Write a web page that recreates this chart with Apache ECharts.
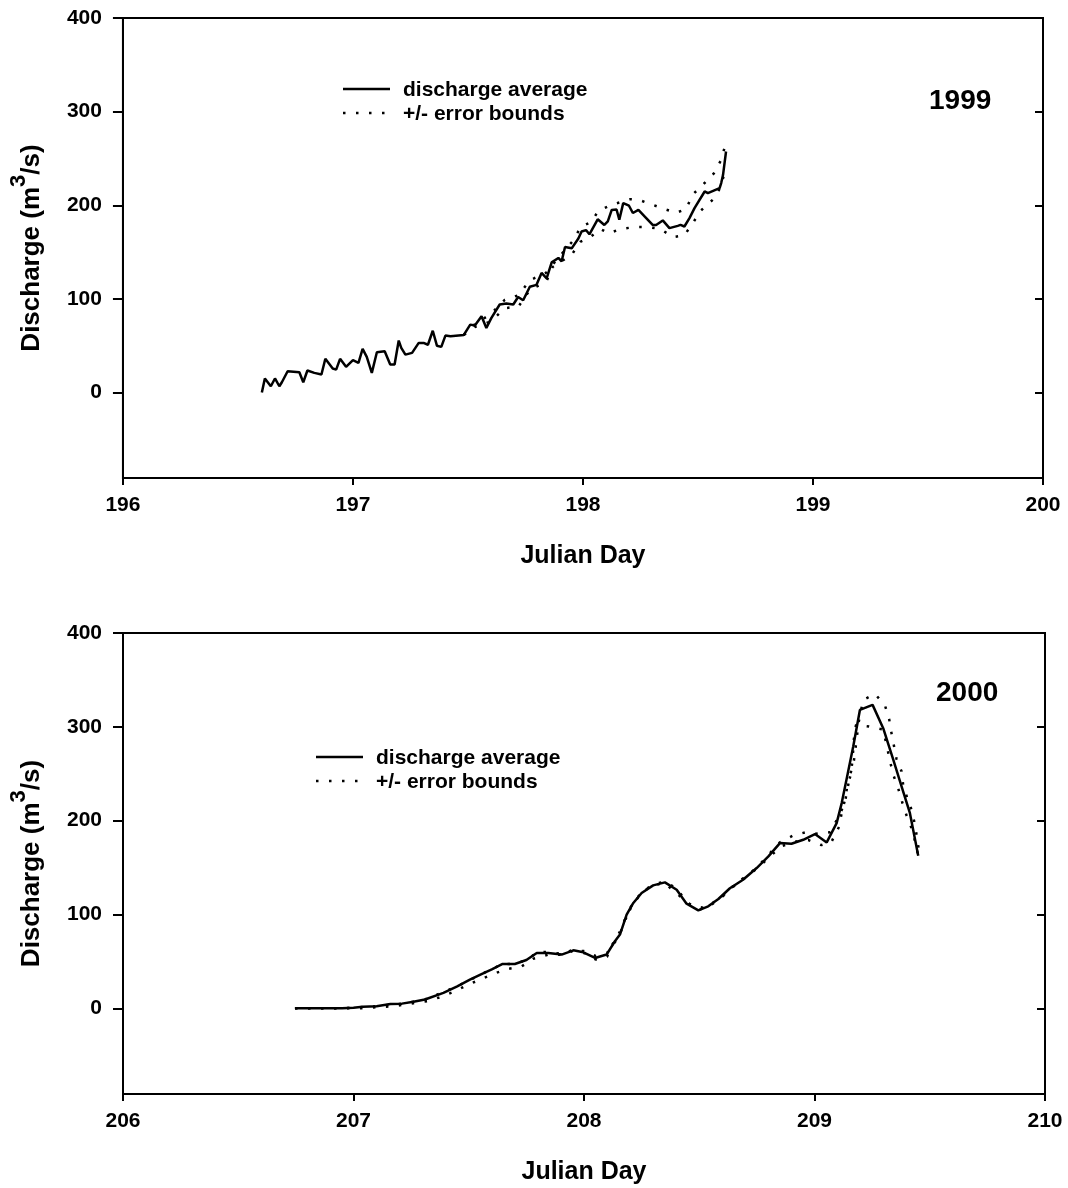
<!DOCTYPE html>
<html>
<head>
<meta charset="utf-8">
<title>Discharge, Julian Days 196-200 (1999) and 206-210 (2000)</title>
<script src="https://cdn.jsdelivr.net/npm/echarts@6/dist/echarts.min.js"></script>
<style>
  html, body { margin: 0; padding: 0; background: #ffffff; }
  #chart { width: 1068px; height: 1188px; }
</style>
</head>
<body>
<div id="chart"></div>
<script>
// ---- 1999 ----
const days1999 = [196.604, 196.617, 196.643, 196.661, 196.680, 196.691, 196.716, 196.767, 196.784, 196.802,
  196.832, 196.863, 196.880, 196.912, 196.927, 196.944, 196.970, 197.000, 197.024, 197.042,
  197.060, 197.082, 197.104, 197.138, 197.162, 197.181, 197.199, 197.210, 197.228, 197.257,
  197.286, 197.307, 197.326, 197.347, 197.365, 197.384, 197.402, 197.424, 197.482, 197.510,
  197.530, 197.559, 197.580, 197.602, 197.638, 197.667, 197.697, 197.718, 197.740, 197.769,
  197.798, 197.820, 197.842, 197.864, 197.893, 197.907, 197.922, 197.951, 197.980, 197.994,
  198.013, 198.028, 198.064, 198.093, 198.108, 198.125, 198.146, 198.158, 198.175, 198.200,
  198.217, 198.241, 198.275, 198.303, 198.318, 198.347, 198.376, 198.412, 198.424, 198.441,
  198.463, 198.485, 198.529, 198.543, 198.594, 198.601, 198.609, 198.622];
const mean1999 = [0, 15, 6.7, 15, 6.7, 11, 22.7, 21.7, 11, 23.5,
  21, 19.2, 36, 25.6, 24.5, 36, 27.4, 34.5, 31.7, 46.6,
  38, 21, 43, 44, 29.9, 29.9, 55.5, 47.7, 40.5, 42.3,
  53, 53, 51, 66, 50, 48.7, 60.8, 60, 61.5, 72.5,
  71.5, 81.4, 69, 79.7, 94, 95, 94, 102, 98.5, 113,
  115, 127.7, 122, 139, 143.7, 140, 155.4, 154, 164.5, 172,
  173.5, 169, 185, 179, 182.7, 195, 195.5, 184.5, 202.3, 199.5,
  191.7, 195, 186.3, 179, 179, 183.8, 175.6, 178, 179, 177.3,
  186.3, 197, 214.7, 213, 218.3, 223.7, 232.5, 257.4];
// error bounds separate from the average only in the second half of the record
const upDays1999 = [197.482, 197.530, 197.600, 197.660, 197.720, 197.770, 197.840, 197.900, 197.960, 197.990,
  198.035, 198.067, 198.125, 198.206, 198.241, 198.303, 198.354, 198.405, 198.449, 198.475,
  198.522, 198.569, 198.600, 198.617];
const up1999 = [61.5, 73, 84, 99, 104, 120, 128, 146, 163, 177,
  182, 194, 200.5, 206.5, 206, 200.5, 196, 192, 196, 211,
  222, 234, 248, 262.7];
const loDays1999 = [197.482, 197.530, 197.600, 197.660, 197.720, 197.770, 197.840, 197.868, 197.911, 197.955,
  197.988, 198.032, 198.076, 198.112, 198.163, 198.224, 198.285, 198.337, 198.391, 198.441,
  198.478, 198.511, 198.565, 198.598, 198.613];
const lo1999 = [61.5, 70, 76, 90, 92, 110, 118, 134, 140.8, 148.6,
  161, 166, 174.6, 170, 174.6, 176.7, 176.7, 174.6, 166, 168,
  181, 194, 206, 219, 232.5];

// ---- 2000 ----
const days2000 = [206.746, 206.80, 206.85, 206.90, 206.95, 207.00, 207.04, 207.10, 207.16, 207.21,
  207.26, 207.31, 207.39, 207.45, 207.505, 207.56, 207.60, 207.647, 207.70, 207.75,
  207.795, 207.845, 207.903, 207.954, 207.997, 208.048, 208.098, 208.134, 208.156, 208.185,
  208.214, 208.25, 208.30, 208.351, 208.402, 208.445, 208.496, 208.539, 208.583, 208.633,
  208.69, 208.749, 208.80, 208.85, 208.90, 208.951, 209.002, 209.053, 209.096, 209.118,
  209.14, 209.168, 209.197, 209.252, 209.298, 209.342, 209.378, 209.414, 209.45];
const mean2000 = [0, 0, 0, 0, 0, 0.5, 1.6, 2.3, 4.7, 5,
  7, 9.4, 16.4, 23.5, 30.6, 37, 41.5, 47.3, 47.3, 51.5,
  59, 59, 57.3, 61.8, 59.7, 53.7, 57.3, 71.5, 78.6, 99.8,
  112.3, 122.9, 131, 134.2, 126.4, 111.5, 104.4, 108.7, 116.5, 128,
  137, 149.5, 161.9, 176.1, 175.4, 179.6, 185.7, 176.8, 197.4, 218.7,
  245.3, 279, 318, 323.4, 298.5, 264.8, 236.4, 208, 162.6];
const upDays2000 = [206.746, 206.95, 207.10, 207.21, 207.31, 207.45, 207.56, 207.647, 207.70, 207.75,
  207.80, 207.85, 207.90, 207.95, 208.00, 208.05, 208.10, 208.15, 208.20, 208.25,
  208.30, 208.35, 208.40, 208.45, 208.50, 208.55, 208.60, 208.65, 208.75, 208.85,
  208.908, 208.963, 209.016, 209.067, 209.11, 209.132, 209.154, 209.171, 209.183, 209.19,
  209.211, 209.262, 209.305, 209.324, 209.334, 209.356, 209.378, 209.385, 209.404, 209.421,
  209.436, 209.452];
const up2000 = [0, 0, 2.3, 5, 9.4, 23.5, 37, 47.3, 47.3, 51.5,
  60, 60, 58, 62, 61, 56, 59, 76, 107, 124,
  132, 135, 128, 112, 105, 110, 119, 131, 150, 177,
  184.2, 187.7, 186, 187.7, 206.6, 219.7, 248, 264, 287, 303,
  328.6, 335, 323.4, 308, 293.3, 265.6, 252.4, 237.2, 223, 211.6,
  195.6, 170];
const loDays2000 = [206.746, 207.00, 207.04, 207.10, 207.16, 207.21, 207.26, 207.32, 207.382, 207.44,
  207.498, 207.556, 207.618, 207.669, 207.73, 207.78, 207.845, 207.90, 207.95, 208.015,
  208.05, 208.10, 208.12, 208.153, 208.178, 208.207, 208.25, 208.30, 208.35, 208.413,
  208.467, 208.52, 208.583, 208.65, 208.75, 208.855, 208.915, 208.973, 209.03, 209.074,
  209.107, 209.118, 209.132, 209.142, 209.157, 209.165, 209.171, 209.18, 209.237, 209.298,
  209.33, 209.342, 209.363, 209.382, 209.40, 209.421, 209.433, 209.45];
const lo2000 = [0, 0, 0, 1.2, 2, 3.5, 5.5, 7.6, 12.3, 18.2,
  25.3, 31.3, 37.7, 42, 44.8, 52.9, 57.2, 57, 61, 58.3,
  52, 55, 66.9, 80.4, 95.3, 108.7, 123.6, 131, 133.5, 120.1,
  109.5, 107, 116, 130, 149, 172.6, 177.6, 179.4, 174, 177.6,
  193.6, 208.5, 222, 236.2, 248.7, 264.6, 287, 302, 300.3, 297,
  261, 248.7, 234.5, 218.5, 205, 192, 181.4, 162.6];

// ---- axes & labels ----
const yTicks = [0, 100, 200, 300, 400];
const yMin = -91.3, yMax = 400;
const xRange1999 = [196, 200];
const xRange2000 = [206, 210];
const yearLabels = ['1999', '2000'];
const seriesNames = ['discharge average', '+/- error bounds'];
const xTitle = 'Julian Day';
const yTitle = 'Discharge (m{sup|3}/s)';

const FONT = '"Liberation Sans", Arial, Helvetica, sans-serif';
const pairs = (xs, ys) => xs.map((x, i) => [x, ys[i]]);

const DOTS = [2.5, 10.5];
const meanStyle = { color: '#000', width: 2.5 };
const boundStyle = { color: '#000', width: 2.5, type: DOTS, cap: 'butt' };

function lineSeries(name, idx, data, style) {
  return {
    name: name, type: 'line', xAxisIndex: idx, yAxisIndex: idx * 2,
    data: data, showSymbol: false, symbol: 'none', smooth: false,
    lineStyle: style, itemStyle: { color: '#000' }, animation: false, silent: true, z: 3
  };
}

function xAxisFor(idx, range) {
  return {
    type: 'value', gridIndex: idx, min: range[0], max: range[1], interval: 1,
    name: xTitle, nameLocation: 'middle', nameGap: 66,
    nameTextStyle: { fontFamily: FONT, fontWeight: 'bold', fontSize: 25, color: '#000' },
    axisLine: { show: true, onZero: false, lineStyle: { color: '#000', width: 2 } },
    axisTick: { show: true, inside: false, length: 7, lineStyle: { color: '#000', width: 2 } },
    axisLabel: { fontFamily: FONT, fontWeight: 'bold', fontSize: 21, color: '#000', margin: 17 },
    splitLine: { show: false }
  };
}

function yAxesFor(idx) {
  return [{
    type: 'value', gridIndex: idx, position: 'left', min: yMin, max: yMax,
    name: yTitle, nameLocation: 'middle', nameGap: 60, nameRotate: 90,
    nameTextStyle: {
      fontFamily: FONT, fontWeight: 'bold', fontSize: 26, color: '#000', lineHeight: 48,
      rich: { sup: { fontFamily: FONT, fontWeight: 'bold', fontSize: 22, color: '#000', verticalAlign: 'top', lineHeight: 22 } }
    },
    axisLine: { show: true, onZero: false, lineStyle: { color: '#000', width: 2 } },
    axisTick: { show: true, inside: false, length: 10, customValues: yTicks, lineStyle: { color: '#000', width: 2 } },
    axisLabel: { fontFamily: FONT, fontWeight: 'bold', fontSize: 21, color: '#000', margin: 21, customValues: yTicks },
    splitLine: { show: false }
  }, {
    type: 'value', gridIndex: idx, position: 'right', min: yMin, max: yMax,
    axisLine: { show: true, onZero: false, lineStyle: { color: '#000', width: 2 } },
    axisTick: { show: true, inside: true, length: 8, customValues: yTicks, lineStyle: { color: '#000', width: 2 } },
    axisLabel: { show: false, customValues: yTicks },
    splitLine: { show: false }
  }];
}

// key: a solid sample for the average, a dotted one for the bounds
function keyFor(x, y) {
  const textFont = 'bold 21px ' + FONT;
  return [
    { type: 'line', shape: { x1: x, y1: y, x2: x + 47, y2: y }, style: { stroke: '#000', lineWidth: 2.5 }, silent: true },
    { type: 'text', x: x + 60, y: y + 1, style: { text: seriesNames[0], font: textFont, fill: '#000', verticalAlign: 'middle' }, silent: true },
    { type: 'line', shape: { x1: x, y1: y + 24, x2: x + 47, y2: y + 24 }, style: { stroke: '#000', lineWidth: 2.5, lineDash: DOTS }, silent: true },
    { type: 'text', x: x + 60, y: y + 25, style: { text: seriesNames[1], font: textFont, fill: '#000', verticalAlign: 'middle' }, silent: true }
  ];
}

const chart = echarts.init(document.getElementById('chart'), null, { renderer: 'canvas' });
chart.setOption({
  backgroundColor: '#fff',
  animation: false,
  title: [
    { text: yearLabels[0], left: 929, top: 87, textStyle: { fontFamily: FONT, fontWeight: 'bold', fontSize: 28, color: '#000' }, padding: 0 },
    { text: yearLabels[1], left: 936, top: 679, textStyle: { fontFamily: FONT, fontWeight: 'bold', fontSize: 28, color: '#000' }, padding: 0 }
  ],
  graphic: keyFor(343, 89).concat(keyFor(316, 757)),
  grid: [
    { left: 120, right: 25, top: 18, height: 460, show: true, borderColor: '#000', borderWidth: 2, backgroundColor: 'transparent' },
    { left: 123, right: 23, top: 633, height: 461, show: true, borderColor: '#000', borderWidth: 2, backgroundColor: 'transparent' }
  ],
  xAxis: [xAxisFor(0, xRange1999), xAxisFor(1, xRange2000)],
  yAxis: yAxesFor(0).concat(yAxesFor(1)),
  series: [
    lineSeries(seriesNames[0], 0, pairs(days1999, mean1999), meanStyle),
    lineSeries(seriesNames[1], 0, pairs(upDays1999, up1999), boundStyle),
    lineSeries(seriesNames[1], 0, pairs(loDays1999, lo1999), boundStyle),
    lineSeries(seriesNames[0], 1, pairs(days2000, mean2000), meanStyle),
    lineSeries(seriesNames[1], 1, pairs(upDays2000, up2000), boundStyle),
    lineSeries(seriesNames[1], 1, pairs(loDays2000, lo2000), boundStyle)
  ]
});
</script>
</body>
</html>
